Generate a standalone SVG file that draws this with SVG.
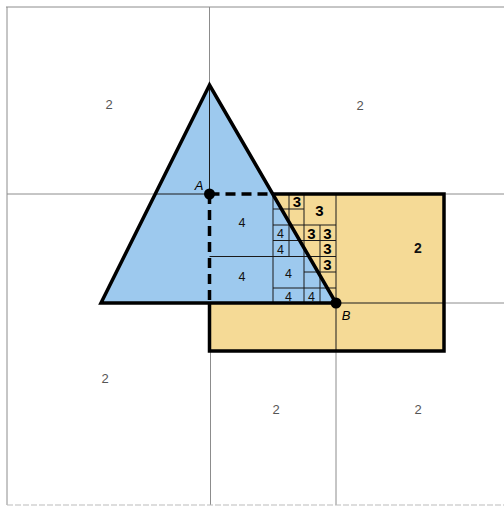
<svg xmlns="http://www.w3.org/2000/svg" width="504" height="507" viewBox="0 0 504 507">
<style>
.g{stroke:#8c8c8c;stroke-width:1;fill:none}
.t{stroke:#1a1a1a;stroke-width:1;fill:none}
.k{stroke:#000;stroke-width:3.5;fill:none;stroke-linejoin:miter}
.d{stroke:#000;stroke-width:3.5;fill:none;stroke-dasharray:10 6}
.l2{font-family:"Liberation Sans",Arial,sans-serif;font-size:13px;fill:#555;text-anchor:middle}
.lb{font-family:"Liberation Sans",Arial,sans-serif;font-size:14px;font-weight:bold;fill:#111;text-anchor:middle}
.l4{font-family:"Liberation Sans",Arial,sans-serif;font-size:12.5px;fill:#111;text-anchor:middle}
.l3{font-family:"Liberation Sans",Arial,sans-serif;font-size:15px;font-weight:bold;fill:#000;text-anchor:middle}
.pt{font-family:"Liberation Sans",Arial,sans-serif;font-size:13px;font-style:italic;fill:#000;text-anchor:middle}
</style>
<rect width="504" height="507" fill="#fff"/>
<g id="grid">
<path class="g" d="M6,7H504M7,7V505M209.5,7V85M7,194H154.7M444,194H504M444,303H504M210.5,351V505M336,351V505"/>
<path d="M7,505H504" stroke="#bbb" stroke-width="1.2" stroke-dasharray="6 2"/>
</g>
<g id="rectangle">
<rect x="209.5" y="194" width="234.5" height="157" fill="#f5da96"/>
</g>
<g id="triangle">
<polygon points="209.5,85 101,303 336,303" fill="#9dc9ee"/>
</g>
<g id="cells">
<path class="t" d="M209.5,85V194M154.7,194H209.5M209.5,256.5H336M273,194V303M289,194V256.5M304,194V303M273,209H304M273,225H336M273,240.5H336M320,225V303M304,272H336M273,288H336M336,194V351M336,303H444"/>
</g>
<g id="outlines">
<polygon class="k" points="209.5,85 101,303 336,303"/>
<path class="k" d="M272.7,194H444V351H209.5V303"/>
<path class="d" d="M209.5,194H272.7M209.5,194V303"/>
<circle cx="209.5" cy="194" r="5.5" fill="#000"/>
<circle cx="336" cy="303" r="5.5" fill="#000"/>
</g>
<g id="labels">
<text class="l2" x="109" y="109">2</text>
<text class="l2" x="360" y="110">2</text>
<text class="l2" x="105" y="383">2</text>
<text class="l2" x="276" y="414">2</text>
<text class="l2" x="418" y="414">2</text>
<text class="lb" x="418" y="253">2</text>
<text class="l4" x="242" y="226.5">4</text>
<text class="l4" x="242" y="280.5">4</text>
<text class="l4" x="280.5" y="237.5">4</text>
<text class="l4" x="280.5" y="253.5">4</text>
<text class="l4" x="288.5" y="278">4</text>
<text class="l4" x="288.5" y="300.5">4</text>
<text class="l4" x="311.5" y="300.5">4</text>
<text class="l3" x="297" y="207">3</text>
<text class="l3" x="319.5" y="215.5">3</text>
<text class="l3" x="311.5" y="238.5">3</text>
<text class="l3" x="327.5" y="238.5">3</text>
<text class="l3" x="327.5" y="254">3</text>
<text class="l3" x="327.5" y="270">3</text>
<text class="pt" x="199" y="190">A</text>
<text class="pt" x="346" y="320">B</text>
</g>
</svg>
